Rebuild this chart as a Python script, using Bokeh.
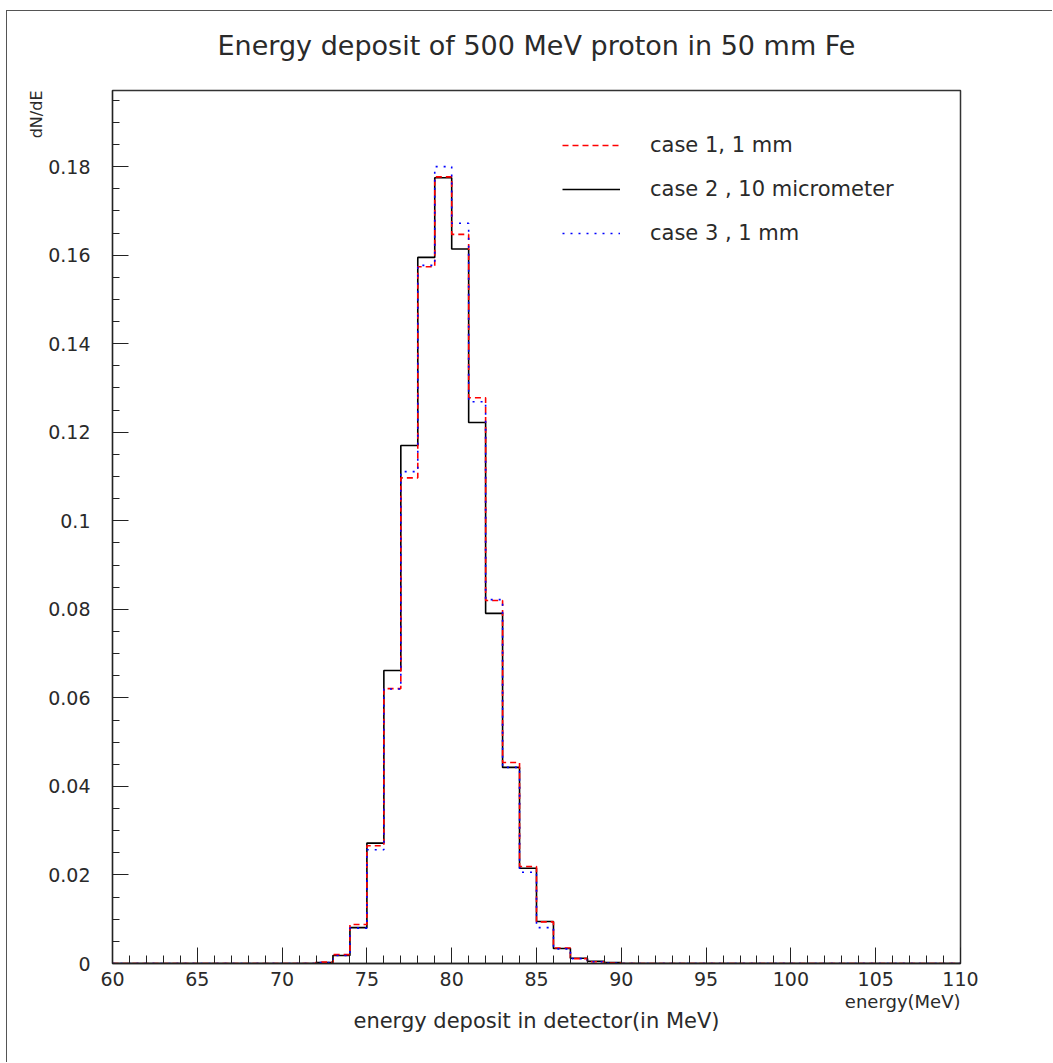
from bokeh.plotting import figure
from bokeh.embed import file_html
from bokeh.resources import INLINE
from bokeh.models import (Range1d, FixedTicker, CustomJSTickFormatter, Title,
                          Legend, LegendItem)

# ---------------- data ----------------
bin_lo = [60, 61, 62, 63, 64, 65, 66, 67, 68, 69,
          70, 71, 72, 73, 74, 75, 76, 77, 78, 79,
          80, 81, 82, 83, 84, 85, 86, 87, 88, 89,
          90, 91, 92, 93, 94, 95, 96, 97, 98, 99,
          100, 101, 102, 103, 104, 105, 106, 107, 108, 109]
x_max = 110

case1 = [0, 0, 0, 0, 0, 0, 0, 0, 0, 0,
         0, 0, 0.0003, 0.0020, 0.0088, 0.0266, 0.0621, 0.1097, 0.1574, 0.1777,
         0.1647, 0.1278, 0.0820, 0.0454, 0.0219, 0.0094, 0.0035, 0.0011, 0.0004, 0.0001,
         0, 0, 0, 0, 0, 0, 0, 0, 0, 0,
         0, 0, 0, 0, 0, 0, 0, 0, 0, 0]
case2 = [0, 0, 0, 0, 0, 0, 0, 0, 0, 0,
         0, 0, 0.0002, 0.0018, 0.0081, 0.0272, 0.0662, 0.1170, 0.1595, 0.1775,
         0.1614, 0.1222, 0.0791, 0.0443, 0.0215, 0.0095, 0.0034, 0.0012, 0.0005, 0.0002,
         0, 0, 0, 0, 0, 0, 0, 0, 0, 0,
         0, 0, 0, 0, 0, 0, 0, 0, 0, 0]
case3 = [0, 0, 0, 0, 0, 0, 0, 0, 0, 0,
         0, 0, 0.0002, 0.0018, 0.0080, 0.0257, 0.0620, 0.1111, 0.1577, 0.1800,
         0.1672, 0.1269, 0.0822, 0.0443, 0.0206, 0.0081, 0.0033, 0.0011, 0.0004, 0.0001,
         0, 0, 0, 0, 0, 0, 0, 0, 0, 0,
         0, 0, 0, 0, 0, 0, 0, 0, 0, 0]

labels = ["case 1, 1 mm", "case 2 , 10 micrometer", "case 3 , 1 mm"]

x_major = [60, 65, 70, 75, 80, 85, 90, 95, 100, 105, 110]
x_minor = list(range(60, 111))
y_major = [0, 0.02, 0.04, 0.06, 0.08, 0.1, 0.12, 0.14, 0.16, 0.18]
y_minor = [0, 0.005, 0.01, 0.015, 0.02, 0.025, 0.03, 0.035, 0.04, 0.045,
           0.05, 0.055, 0.06, 0.065, 0.07, 0.075, 0.08, 0.085, 0.09, 0.095,
           0.1, 0.105, 0.11, 0.115, 0.12, 0.125, 0.13, 0.135, 0.14, 0.145,
           0.15, 0.155, 0.16, 0.165, 0.17, 0.175, 0.18, 0.185, 0.19, 0.195]
y_top = 0.1972

title_text = "Energy deposit of 500 MeV proton in 50 mm Fe"
xlabel_text = "energy deposit in detector(in MeV)"
xunit_text = "energy(MeV)"
ylabel_text = "dN/dE"

FONT = "DejaVu Sans"
TXT = "#2a2a2a"

# ---------------- figure ----------------
W, H = 1046, 1052
p = figure(width=W, height=H, output_backend="svg", toolbar_location=None,
           x_range=Range1d(60, x_max), y_range=Range1d(0, y_top),
           min_border_left=105, min_border_right=93,
           min_border_top=79, min_border_bottom=100,
           background_fill_color="white", border_fill_color="white")
p.styles = {"margin-left": "6px", "margin-top": "10px",
            "border-left": "1px solid #555", "border-top": "1px solid #555"}
p.grid.visible = False
p.outline_line_color = "#333333"
p.outline_line_width = 1.5

# title (a blank spacer title sits between it and the frame)
p.add_layout(Title(text=" ", text_font_size="4px", standoff=21), "above")
p.title.text = title_text
p.title.align = "center"
p.title.text_font = FONT
p.title.text_font_size = "27px"
p.title.text_font_style = "normal"
p.title.text_color = TXT
p.title.standoff = 4

def step_xy(vals):
    return bin_lo + [x_max], vals + [vals[-1]]

xs, ys = step_xy(case2)
r2 = p.step(xs, ys, mode="after", line_color="black", line_width=1.6)
xs, ys = step_xy(case1)
r1 = p.step(xs, ys, mode="after", line_color="#ff0000", line_width=1.6,
            line_dash="6 4")
xs, ys = step_xy(case3)
r3 = p.step(xs, ys, mode="after", line_color="#0000ff", line_width=1.6,
            line_dash="2 6")

# axes
xa = p.xaxis[0]
xa.ticker = FixedTicker(ticks=x_major, minor_ticks=x_minor)
xa.major_tick_in = 16
xa.major_tick_out = 0
xa.minor_tick_in = 8
xa.minor_tick_out = 0
xa.axis_line_color = "#222222"
xa.axis_line_width = 1.6
xa.major_tick_line_color = "#222222"
xa.minor_tick_line_color = "#222222"
xa.major_label_text_font = FONT
xa.major_label_text_font_size = "19px"
xa.major_label_text_color = TXT
xa.major_label_standoff = 8

ya = p.yaxis[0]
ya.ticker = FixedTicker(ticks=y_major, minor_ticks=y_minor)
ya.formatter = CustomJSTickFormatter(code="return String(Math.round(tick*1000)/1000);")
ya.major_tick_in = 16
ya.major_tick_out = 0
ya.minor_tick_in = 7
ya.minor_tick_out = 0
ya.axis_line_color = "#222222"
ya.axis_line_width = 1.2
ya.major_tick_line_color = "#222222"
ya.minor_tick_line_color = "#222222"
ya.major_label_text_font = FONT
ya.major_label_text_font_size = "19px"
ya.major_label_text_color = TXT
ya.major_label_standoff = 22

# axis titles placed as side titles
p.add_layout(Title(text=xunit_text, align="right", text_font=FONT,
                   text_font_size="18px", text_font_style="normal",
                   text_color=TXT, standoff=0), "below")
p.add_layout(Title(text=xlabel_text, align="center", text_font=FONT,
                   text_font_size="21px", text_font_style="normal",
                   text_color=TXT, standoff=-10), "below")
p.add_layout(Title(text=ylabel_text, align="right", text_font=FONT,
                   text_font_size="16px", text_font_style="normal",
                   text_color=TXT, standoff=0), "left")

legend = Legend(items=[LegendItem(label=labels[0], renderers=[r1]),
                       LegendItem(label=labels[1], renderers=[r2]),
                       LegendItem(label=labels[2], renderers=[r3])],
                location=(450, 718), orientation="vertical",
                glyph_width=58, glyph_height=20, label_height=20,
                label_standoff=30, spacing=20, padding=0, margin=0,
                border_line_color=None, background_fill_alpha=0,
                label_text_font=FONT, label_text_font_size="21px",
                label_text_color=TXT)
p.add_layout(legend, "center")

open("out.html", "w").write(file_html(p, INLINE))
